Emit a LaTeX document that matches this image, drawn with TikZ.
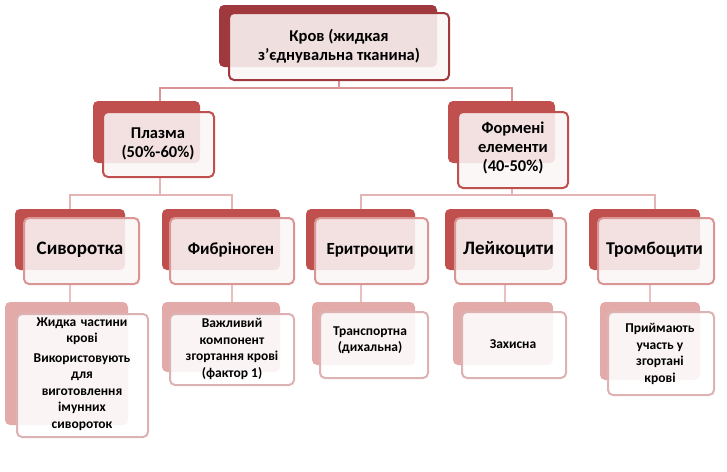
\documentclass[tikz,border=0pt]{standalone}
\usepackage{fontspec}
\setmainfont{Carlito}
\begin{document}
\begin{tikzpicture}[x=1pt,y=-1pt,
 back/.style={rounded corners=5pt,fill=#1},
 front/.style={rounded corners=5pt,draw=#1,line width=2pt,fill=white,fill opacity=0.88,text opacity=1},
 conn/.style={draw=#1,line width=2.5pt},
 txt/.style={align=center,font=\bfseries}]
\definecolor{c1}{HTML}{A0393E}\definecolor{c1f}{HTML}{FBF6F6}
\definecolor{c2}{HTML}{C0504D}\definecolor{c2b}{HTML}{D99694}
\definecolor{c3}{HTML}{E3AAAA}\definecolor{c3b}{HTML}{DDB2B2}
\useasboundingbox (0,0) rectangle (727,471);
% connectors
\draw[conn=c2b] (339,80)--(339,88) (160,101)--(160,88)--(512,88)--(512,101);
\draw[conn=c2b!70] (160,177)--(160,195) (70,209)--(70,195)--(232,195)--(232,209)
 (512,188)--(512,195) (361,209)--(361,195)--(655,195)--(655,209);
\foreach \x in {70,232,361,505,650}{\draw[conn=c2b!60] (\x,284)--(\x,302);}
% root
\fill[back=c1] (219,5) rectangle (437,67);
\draw[front=c1,fill=c1f] (229,13) rectangle (449,80);
\node[txt,font=\bfseries\fontsize{16.5}{19}\selectfont] (root) at (339,46) {Кров (жидкая\\ з'єднувальна тканина)};
% level 1
\fill[back=c2] (93,101) rectangle (200,163);
\draw[front=c2,fill=c1f] (103,112) rectangle (214,177);
\node[txt,font=\bfseries\fontsize{16.5}{19}\selectfont] (pl) at (158,144) {Плазма\\(50\%-60\%)};
\fill[back=c2] (448,101) rectangle (555,163);
\draw[front=c2,fill=c1f] (458,112) rectangle (568,188);
\node[txt,font=\bfseries\fontsize{16.5}{19}\selectfont] (fe) at (513,148) {Формені\\елементи\\(40-50\%)};
% level 2
\foreach \a/\b/\c/\d/\t/\n/\s in {
 15/125/24/139/Сиворотка/s/19, 162/280/170/294/Фибріноген/f/17,
 306/415/315/428/Еритроцити/e/17, 445/553/455/566/Лейкоцити/l/19,
 589/700/598/714/Тромбоцити/t/18}{
 \fill[back=c2] (\a,209) rectangle (\b,270);
 \draw[front=c2b,fill=c1f] (\c,218) rectangle (\d,284);
 \node[txt,font=\bfseries\fontsize{\s}{20}\selectfont] (\n) at ({(\a+\d)/2+3},250) {\t};
}
% level 3
\fill[back=c3] (5,302) rectangle (128,425);
\draw[front=c3b] (17,314) rectangle (148,437);
\node[txt,font=\bfseries\fontsize{13.5}{16.5}\selectfont,text width=125pt] (s3) at (82,374) {Жидка частини\\крові\\[3pt]Використовують\\для\\виготовлення\\імунних\\сиворoток};
\fill[back=c3] (162,302) rectangle (280,372);
\draw[front=c3b] (170,314) rectangle (294,385);
\node[txt,font=\bfseries\fontsize{13.5}{16.5}\selectfont] (f3) at (232,349) {Важливий\\компонент\\згортання крові\\(фактор 1)};
\fill[back=c3] (312,302) rectangle (415,365);
\draw[front=c3b] (320,312) rectangle (428,378);
\node[txt,font=\bfseries\fontsize{13.5}{16.5}\selectfont] (e3) at (370,340) {Транспортна\\(дихальна)};
\fill[back=c3] (453,302) rectangle (553,365);
\draw[front=c3b] (462,312) rectangle (566,378);
\node[txt,font=\bfseries\fontsize{13.5}{16.5}\selectfont] (l3) at (513,344) {Захисна};
\fill[back=c3] (600,302) rectangle (700,380);
\draw[front=c3b] (608,312) rectangle (714,395);
\node[txt,font=\bfseries\fontsize{13.5}{16.5}\selectfont] (t3) at (660,354) {Приймають\\участь у\\згортані\\крові};
\end{tikzpicture}
\end{document}
